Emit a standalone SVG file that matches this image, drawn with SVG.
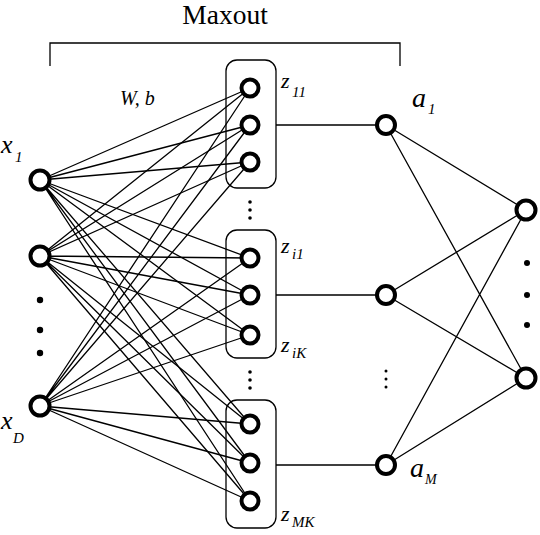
<svg xmlns="http://www.w3.org/2000/svg" width="540" height="535" viewBox="0 0 540 535">
<style>
.n{fill:#fff;stroke:#000;stroke-width:4}
.e{stroke:#000;stroke-width:1.3;fill:none}
.box{fill:none;stroke:#000;stroke-width:1.3}
.d{fill:#000}
text{font-family:'Liberation Serif','Times New Roman','DejaVu Serif',Times,serif;fill:#000}
.m{font-style:italic}
</style>
<rect width="540" height="535" fill="#fff"/>
<g id="bracket">
<path class="e" d="M50,66 V43 H400 V66"/>
<text x="225" y="24" font-size="27.5" text-anchor="middle">Maxout</text>
</g>
<g id="boxes">
<rect class="box" x="226" y="60" width="50" height="128" rx="11"/>
<rect class="box" x="226" y="230" width="50" height="128" rx="11"/>
<rect class="box" x="226" y="400" width="50" height="128" rx="11"/>
</g>
<g id="connectors">
<path class="e" d="M40,180 L250,88 M40,180 L250,125 M40,180 L250,162 M40,180 L250,258 M40,180 L250,295 M40,180 L250,335 M40,180 L250,424 M40,180 L250,463 M40,180 L250,501"/>
<path class="e" d="M40,256 L250,88 M40,256 L250,125 M40,256 L250,162 M40,256 L250,258 M40,256 L250,295 M40,256 L250,335 M40,256 L250,424 M40,256 L250,463 M40,256 L250,501"/>
<path class="e" d="M40,406 L250,88 M40,406 L250,125 M40,406 L250,162 M40,406 L250,258 M40,406 L250,295 M40,406 L250,335 M40,406 L250,424 M40,406 L250,463 M40,406 L250,501"/>
<path class="e" d="M276,125 H386 M276,295 H386 M276,465 H386"/>
<path class="e" d="M386,125 L526,210 M386,125 L526,378 M386,295 L526,210 M386,295 L526,378 M386,465 L526,210 M386,465 L526,378"/>
</g>
<g id="inputs">
<circle class="n" cx="40" cy="180" r="9.5"/>
<circle class="n" cx="40" cy="256" r="9.5"/>
<circle class="n" cx="40" cy="406" r="9.5"/>
<circle class="d" cx="40" cy="300" r="3.2"/>
<circle class="d" cx="40" cy="330" r="3.2"/>
<circle class="d" cx="40" cy="353" r="3.2"/>
<text class="m" x="1" y="153" font-size="26">x</text>
<text class="m" x="15" y="162" font-size="15">1</text>
<text class="m" x="1" y="429" font-size="26">x</text>
<text class="m" x="13" y="443" font-size="15">D</text>
</g>
<g id="z-nodes">
<circle class="n" cx="250" cy="88" r="8.5"/>
<circle class="n" cx="250" cy="125" r="8.5"/>
<circle class="n" cx="250" cy="162" r="8.5"/>
<circle class="n" cx="250" cy="258" r="8.5"/>
<circle class="n" cx="250" cy="295" r="8.5"/>
<circle class="n" cx="250" cy="335" r="8.5"/>
<circle class="n" cx="250" cy="424" r="8.5"/>
<circle class="n" cx="250" cy="463" r="8.5"/>
<circle class="n" cx="250" cy="501" r="8.5"/>
<circle class="d" cx="250" cy="202" r="1.8"/>
<circle class="d" cx="250" cy="210" r="1.8"/>
<circle class="d" cx="250" cy="218" r="1.8"/>
<circle class="d" cx="250" cy="372" r="1.8"/>
<circle class="d" cx="250" cy="380" r="1.8"/>
<circle class="d" cx="250" cy="388" r="1.8"/>
<text class="m" x="281" y="88" font-size="22">z</text>
<text class="m" x="292" y="97" font-size="15">11</text>
<text class="m" x="281" y="253" font-size="22">z</text>
<text class="m" x="292" y="259" font-size="15">i1</text>
<text class="m" x="281" y="352" font-size="22">z</text>
<text class="m" x="292" y="358" font-size="15">iK</text>
<text class="m" x="281" y="521" font-size="22">z</text>
<text class="m" x="292" y="527" font-size="15">MK</text>
<text class="m" x="120" y="105" font-size="20">W, b</text>
</g>
<g id="a-nodes">
<circle class="n" cx="386" cy="125" r="9"/>
<circle class="n" cx="386" cy="295" r="9"/>
<circle class="n" cx="386" cy="465" r="9"/>
<circle class="d" cx="386" cy="371" r="1.5"/>
<circle class="d" cx="386" cy="379" r="1.5"/>
<circle class="d" cx="386" cy="387" r="1.5"/>
<text class="m" x="412" y="107" font-size="28">a</text>
<text class="m" x="428" y="114" font-size="15">1</text>
<text class="m" x="410" y="477" font-size="28">a</text>
<text class="m" x="425" y="484" font-size="14">M</text>
</g>
<g id="outputs">
<circle class="n" cx="526" cy="210" r="9.5"/>
<circle class="n" cx="526" cy="378" r="9.5"/>
<circle class="d" cx="527" cy="263" r="3"/>
<circle class="d" cx="527" cy="295" r="3"/>
<circle class="d" cx="527" cy="325" r="3"/>
</g>
</svg>
